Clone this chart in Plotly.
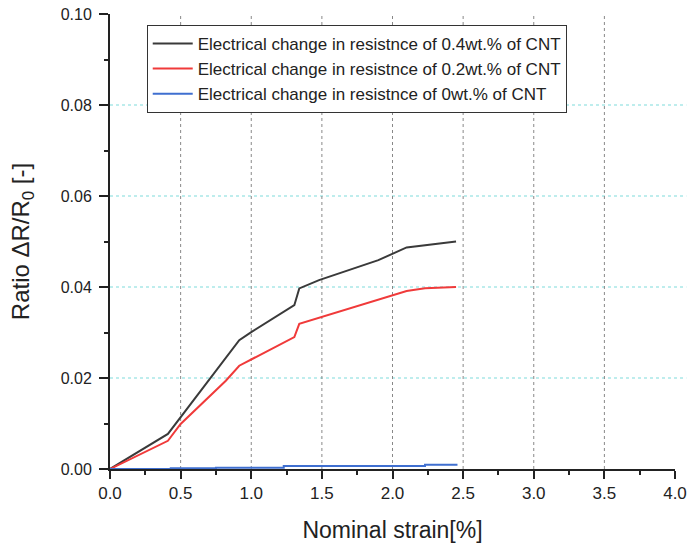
import plotly.graph_objects as go

# Data
strain_04 = [0.0, 0.41, 0.915, 1.0, 1.305, 1.34, 1.48, 1.9, 2.1, 2.3, 2.45]
ratio_04 = [0.0, 0.0077, 0.0283, 0.0301, 0.0360, 0.0397, 0.0415, 0.0459, 0.0487, 0.0495, 0.0500]

strain_02 = [0.0, 0.41, 0.50, 0.82, 0.915, 1.01, 1.305, 1.34, 1.50, 2.0, 2.1, 2.23, 2.45]
ratio_02 = [0.0, 0.0062, 0.0099, 0.0194, 0.0227, 0.0242, 0.0290, 0.0319, 0.0334, 0.0382, 0.0391, 0.0397, 0.0400]

strain_0 = [0.0, 0.43, 0.75, 1.23, 2.23, 2.46]
ratio_0 = [0.0, 0.00015, 0.0003, 0.00066, 0.00095, 0.00095]

names = [
    "Electrical change in resistnce of 0.4wt.% of CNT",
    "Electrical change in resistnce of 0.2wt.% of CNT",
    "Electrical change in resistnce of 0wt.% of CNT",
]
colors = ["#3a3a3a", "#f03a3a", "#3f6fd0"]

x_ticks = [0, 0.5, 1.0, 1.5, 2.0, 2.5, 3.0, 3.5, 4.0]
x_labels = ["0.0", "0.5", "1.0", "1.5", "2.0", "2.5", "3.0", "3.5", "4.0"]
y_ticks = [0, 0.02, 0.04, 0.06, 0.08, 0.10]
y_labels = ["0.00", "0.02", "0.04", "0.06", "0.08", "0.10"]

x_grid = [0.5, 1.0, 1.5, 2.0, 2.5, 3.0, 3.5]
y_grid = [0.02, 0.04, 0.06, 0.08]

fig = go.Figure()
fig.add_trace(go.Scatter(x=strain_04, y=ratio_04, mode="lines", name=names[0],
                         line=dict(color=colors[0], width=2)))
fig.add_trace(go.Scatter(x=strain_02, y=ratio_02, mode="lines", name=names[1],
                         line=dict(color=colors[1], width=2)))
fig.add_trace(go.Scatter(x=strain_0, y=ratio_0, mode="lines", name=names[2],
                         line=dict(color=colors[2], width=2, shape="hv")))

shapes = []
for gx in x_grid:
    shapes.append(dict(type="line", xref="x", yref="y", x0=gx, x1=gx, y0=0, y1=0.1,
                       line=dict(color="#888888", width=1, dash="dot"), layer="below"))
for gy in y_grid:
    shapes.append(dict(type="line", xref="paper", yref="y", x0=0, x1=1.02, y0=gy, y1=gy,
                       line=dict(color="#7fdcdc", width=1.2, dash="dot"), layer="below"))

fig.update_layout(
    width=689, height=543,
    margin=dict(l=110, r=14, t=14, b=74),
    paper_bgcolor="white", plot_bgcolor="white",
    font=dict(family="Arial, Liberation Sans, sans-serif", color="#222222"),
    shapes=shapes,
    showlegend=True,
    legend=dict(x=0.065, y=0.976, xanchor="left", yanchor="top",
                bgcolor="white", bordercolor="#333333", borderwidth=1,
                font=dict(size=17, color="#222222"), itemwidth=40,
                tracegroupgap=0),
    xaxis=dict(range=[0, 4.0], tickmode="array", tickvals=x_ticks, ticktext=x_labels,
               ticks="outside", ticklen=8, tickwidth=1.5, tickcolor="#222222",
               minor=dict(dtick=0.25, ticks="outside", ticklen=4, tickwidth=1.5,
                          tickcolor="#222222", showgrid=False),
               showgrid=False, zeroline=False, showline=True, linecolor="#222222",
               linewidth=2, tickfont=dict(size=17), automargin=False,
               ticklabeloverflow="allow",
               title=dict(text="Nominal strain[%]", font=dict(size=23), standoff=20)),
    yaxis=dict(range=[0, 0.1], tickmode="array", tickvals=y_ticks, ticktext=y_labels,
               ticks="outside", ticklen=9, tickwidth=1.5, tickcolor="#222222",
               minor=dict(dtick=0.01, ticks="outside", ticklen=4, tickwidth=1.5,
                          tickcolor="#222222", showgrid=False),
               showgrid=False, zeroline=False, showline=True, linecolor="#222222",
               linewidth=2, tickfont=dict(size=16), automargin=False,
               ticklabelstandoff=4, ticklabeloverflow="allow",
               title=dict(text="Ratio ΔR/R<sub>0</sub> [-]", font=dict(size=24), standoff=24)),
)

fig.write_html(
    "out.html",
    config={"displayModeBar": False},
    post_script="document.body.style.margin='0';document.body.style.overflow='hidden';",
)
